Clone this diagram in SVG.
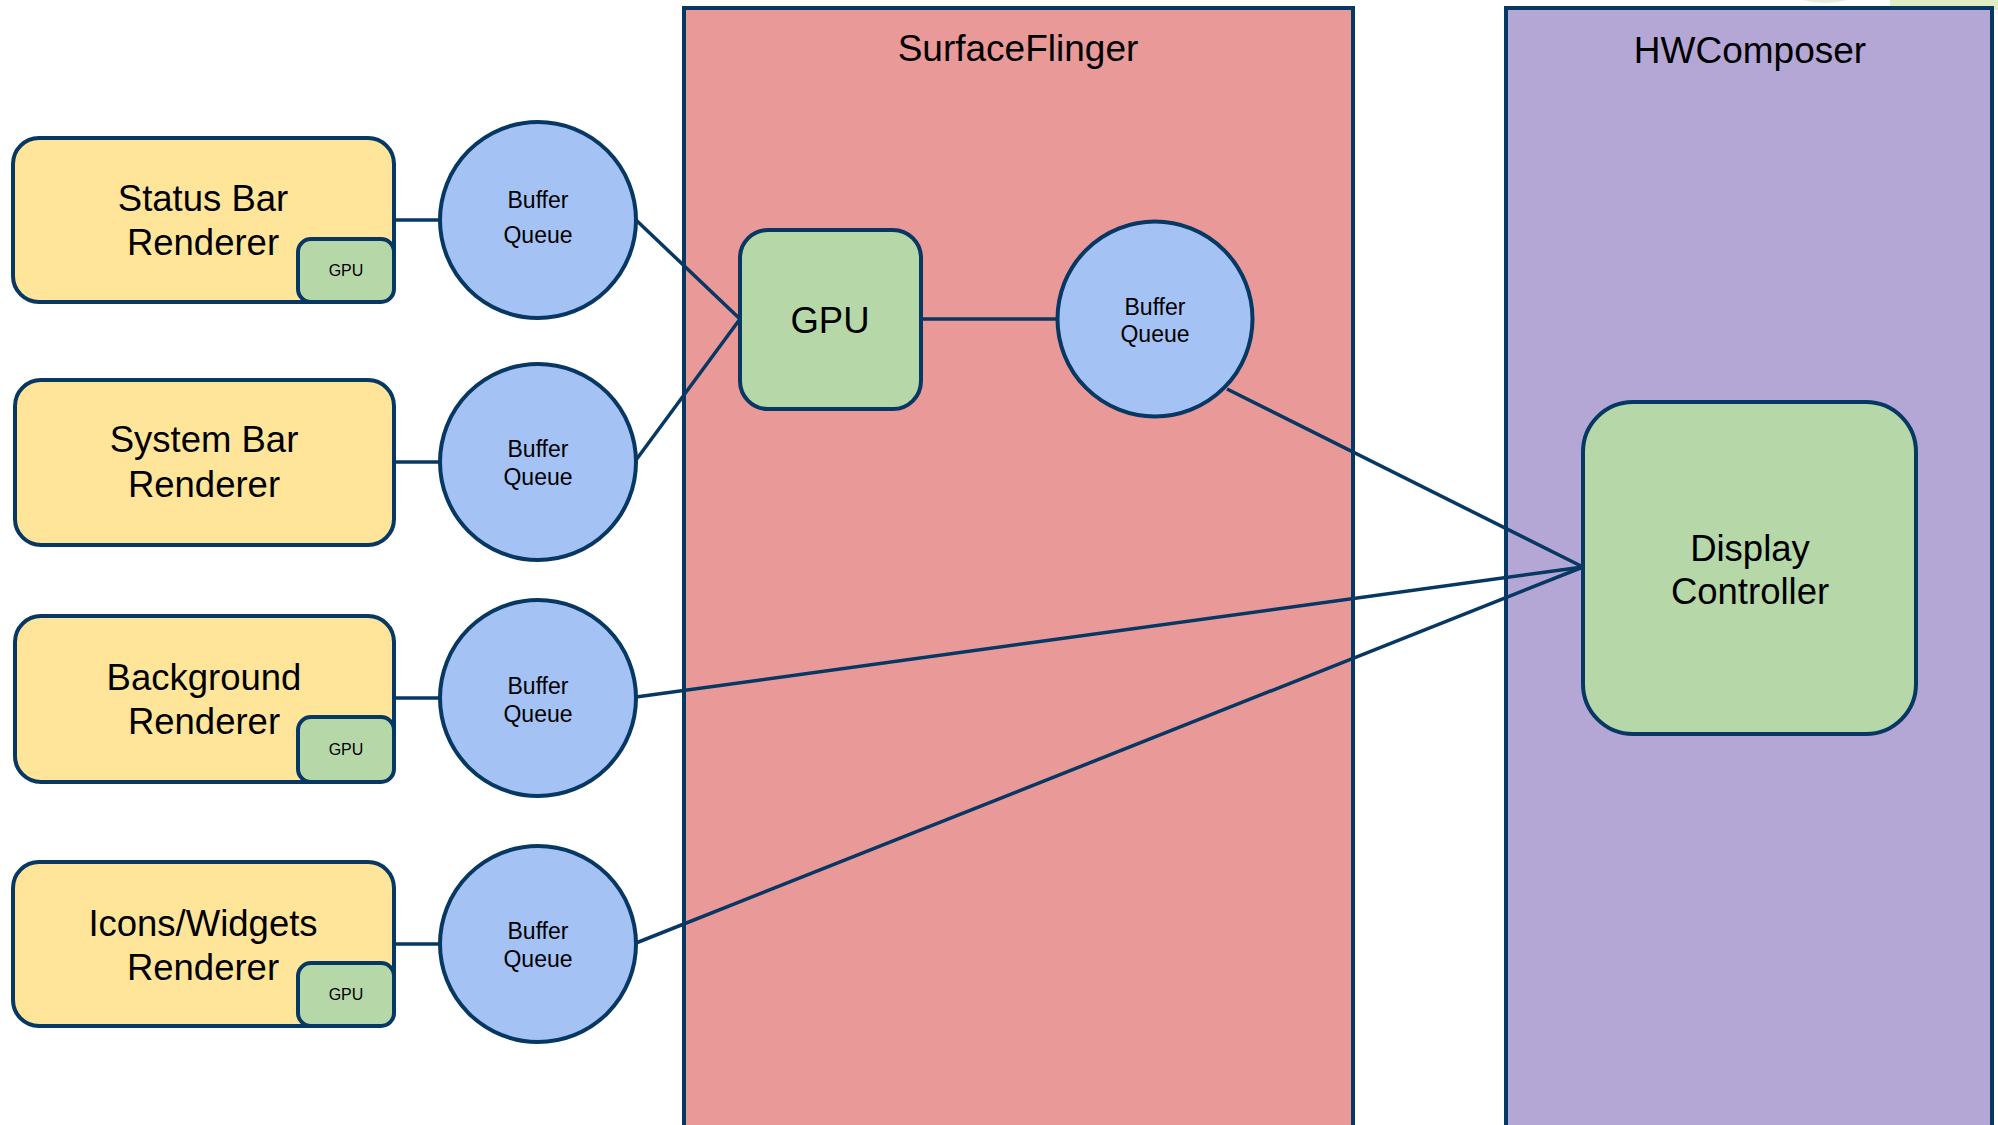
<svg xmlns="http://www.w3.org/2000/svg" width="1998" height="1125" viewBox="0 0 1998 1125">
  <style>
    .edge { stroke: #073763; stroke-width: 4; }
    .wire { stroke: #073763; stroke-width: 3.5; fill: none; }
    .renderer { fill: #ffe599; }
    .gpu { fill: #b6d7a8; }
    .queue { fill: #a4c2f4; }
    text { font-family: "Liberation Sans", Arial, sans-serif; fill: #000; text-anchor: middle; }
    .big { font-size: 36.5px; }
    .title { font-size: 37px; }
    .mid { font-size: 23px; }
    .small { font-size: 16px; }
  </style>

  <rect width="1998" height="1125" fill="#ffffff"/>

  <!-- partial shapes cut off along the top edge -->
  <g id="top-fragments">
    <ellipse cx="1825" cy="-40" rx="60" ry="43" fill="#e4efd8"/>
    <rect x="1890" y="-10" width="120" height="20" fill="#e2ecc3"/>
  </g>

  <!-- containers -->
  <g id="surfaceflinger">
    <rect x="684" y="8" width="669" height="1140" fill="#ea9999" class="edge"/>
    <text class="title" x="1018" y="61">SurfaceFlinger</text>
  </g>
  <g id="hwcomposer">
    <rect x="1506" y="8" width="486" height="1140" fill="#b4a7d6" class="edge"/>
    <text class="title" x="1750" y="63">HWComposer</text>
  </g>

  <!-- connectors -->
  <g id="connectors">
    <line class="wire" x1="394" y1="220" x2="440" y2="220"/>
    <line class="wire" x1="394" y1="462" x2="440" y2="462"/>
    <line class="wire" x1="394" y1="698" x2="440" y2="698"/>
    <line class="wire" x1="394" y1="944" x2="440" y2="944"/>
    <line class="wire" x1="636" y1="220" x2="740" y2="319"/>
    <line class="wire" x1="636" y1="460" x2="740" y2="319"/>
    <line class="wire" x1="921" y1="319" x2="1058" y2="319"/>
    <line class="wire" x1="1227" y1="389" x2="1583" y2="567"/>
    <line class="wire" x1="636" y1="697" x2="1583" y2="567"/>
    <line class="wire" x1="636" y1="943" x2="1583" y2="567"/>
  </g>

  <!-- renderers -->
  <g id="status-bar-renderer">
    <rect x="13" y="138" width="381" height="164" rx="26" class="renderer edge"/>
    <text class="big" x="203" y="211">Status Bar</text>
    <text class="big" x="203" y="255">Renderer</text>
    <rect x="298" y="239" width="96" height="63" rx="13" class="gpu edge"/>
    <text class="small" x="346" y="276">GPU</text>
  </g>
  <g id="system-bar-renderer">
    <rect x="15" y="380" width="379" height="165" rx="26" class="renderer edge"/>
    <text class="big" x="204" y="452">System Bar</text>
    <text class="big" x="204" y="497">Renderer</text>
  </g>
  <g id="background-renderer">
    <rect x="15" y="616" width="379" height="166" rx="26" class="renderer edge"/>
    <text class="big" x="204" y="690">Background</text>
    <text class="big" x="204" y="734">Renderer</text>
    <rect x="298" y="717" width="96" height="65" rx="13" class="gpu edge"/>
    <text class="small" x="346" y="755">GPU</text>
  </g>
  <g id="icons-widgets-renderer">
    <rect x="13" y="862" width="381" height="164" rx="26" class="renderer edge"/>
    <text class="big" x="203" y="936">Icons/Widgets</text>
    <text class="big" x="203" y="980">Renderer</text>
    <rect x="298" y="963" width="96" height="63" rx="13" class="gpu edge"/>
    <text class="small" x="346" y="1000">GPU</text>
  </g>

  <!-- buffer queues -->
  <g id="queue-status-bar">
    <circle cx="538" cy="220" r="98" class="queue edge"/>
    <text class="mid" x="538" y="208">Buffer</text>
    <text class="mid" x="538" y="243">Queue</text>
  </g>
  <g id="queue-system-bar">
    <circle cx="538" cy="462" r="98" class="queue edge"/>
    <text class="mid" x="538" y="457">Buffer</text>
    <text class="mid" x="538" y="485">Queue</text>
  </g>
  <g id="queue-background">
    <circle cx="538" cy="698" r="98" class="queue edge"/>
    <text class="mid" x="538" y="694">Buffer</text>
    <text class="mid" x="538" y="722">Queue</text>
  </g>
  <g id="queue-icons-widgets">
    <circle cx="538" cy="944" r="98" class="queue edge"/>
    <text class="mid" x="538" y="939">Buffer</text>
    <text class="mid" x="538" y="967">Queue</text>
  </g>

  <!-- SurfaceFlinger composition -->
  <g id="sf-gpu">
    <rect x="740" y="230" width="181" height="179" rx="28" class="gpu edge"/>
    <text class="big" x="830" y="333">GPU</text>
  </g>
  <g id="queue-surfaceflinger">
    <circle cx="1155" cy="319" r="97.5" class="queue edge"/>
    <text class="mid" x="1155" y="315">Buffer</text>
    <text class="mid" x="1155" y="342">Queue</text>
  </g>

  <!-- hardware composer -->
  <g id="display-controller">
    <rect x="1583" y="402" width="333" height="332" rx="50" class="gpu edge"/>
    <text class="big" x="1750" y="561">Display</text>
    <text class="big" x="1750" y="604">Controller</text>
  </g>
</svg>
